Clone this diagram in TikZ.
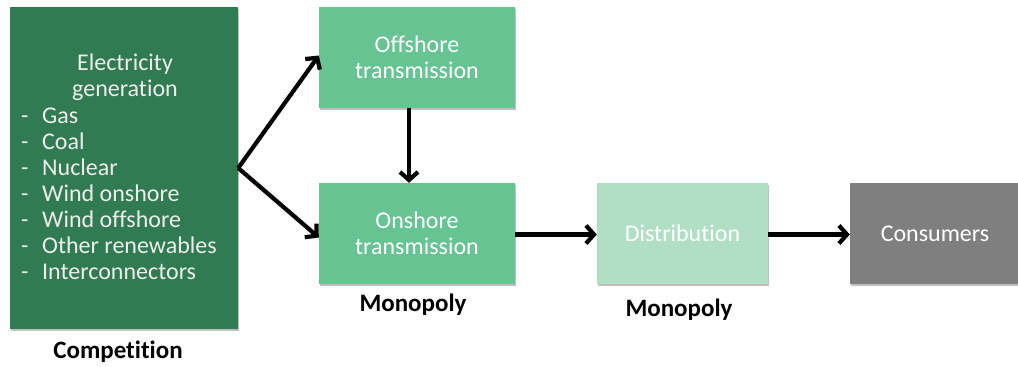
\documentclass[tikz,border=0pt]{standalone}
\usepackage{fontspec}
\setmainfont[Ligatures=NoCommon]{Carlito}
\usetikzlibrary{arrows.meta,shadows}
\definecolor{gendark}{RGB}{49,123,82}
\definecolor{transgreen}{RGB}{102,196,146}
\definecolor{distgreen}{RGB}{177,223,198}
\definecolor{consgray}{RGB}{127,127,127}
\begin{document}
\begin{tikzpicture}[x=1pt,y=-1pt,
  box/.style={draw=none, inner sep=0pt, text=white, align=center,
    font=\fontsize{24}{26}\selectfont,
    drop shadow={shadow xshift=1pt, shadow yshift=-1.5pt, opacity=0.25, fill=black}},
  gentext/.style={text=white!93!black, font=\fontsize{24}{26}\selectfont, inner sep=0pt},
  lbl/.style={font=\fontsize{25}{28}\selectfont\bfseries, text=black, inner sep=0pt},
  arr/.style={line width=4.2pt, -{Straight Barb[length=8pt,width=18pt]}}]
\useasboundingbox (0,0) rectangle (1018,367);
\node[box, fill=gendark, minimum width=228pt, minimum height=322pt] (gen) at (124,168) {};
\node[gentext, align=center] (gentitle) at (125,77) {Electricity\\generation};
\foreach \t [count=\i] in {Gas,Coal,Nuclear,Wind onshore,Wind offshore,Other renewables,Interconnectors}{
  \node[gentext, anchor=base west] (item\i) at (21,{97+26*\i}) {\makebox[21pt][l]{-}\t};
}
\node[box, fill=transgreen, minimum width=196pt, minimum height=101pt] (off) at (417,57.5) {Offshore\\transmission};
\node[box, fill=transgreen, minimum width=196pt, minimum height=101pt] (on) at (417,233.5) {Onshore\\transmission};
\node[box, fill=distgreen, minimum width=171pt, minimum height=101pt] (dist) at (682.5,233.5) {Distribution};
\node[box, fill=consgray, minimum width=170pt, minimum height=101pt] (cons) at (935,233.5) {Consumers};
\node[lbl] (comp) at (118,352) {Competition};
\node[lbl] (mono1) at (413,305) {Monopoly};
\node[lbl] (mono2) at (679,310) {Monopoly};
\draw[arr] (gen.east) -- ([yshift=2pt]off.west);
\draw[arr] (gen.east) -- ([yshift=-4pt]on.west);
\draw[arr] ([xshift=-8pt]off.south) -- ([xshift=-8pt]on.north);
\draw[arr] ([yshift=-1pt]on.east) -- ([yshift=-1pt]dist.west);
\draw[arr] ([yshift=-1pt]dist.east) -- ([yshift=-1pt]cons.west);
\end{tikzpicture}
\end{document}
